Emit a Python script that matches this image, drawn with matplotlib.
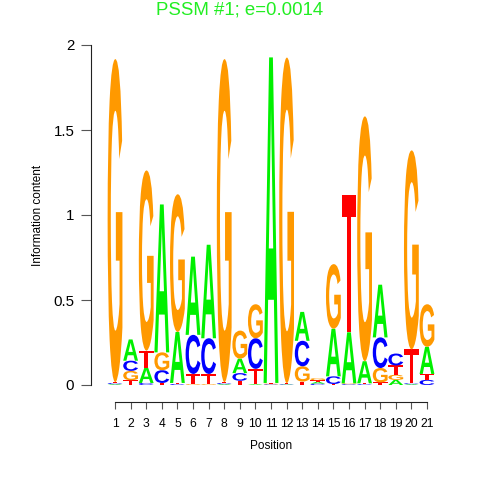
import numpy as np
import matplotlib
matplotlib.use("Agg")
import matplotlib.pyplot as plt
from matplotlib.textpath import TextPath
from matplotlib.patches import PathPatch
from matplotlib.font_manager import FontProperties
import matplotlib.transforms as mtrans

# information content per base at each position
positions = list(range(1, 22))
A = [0.005, 0.125, 0.090, 0.870, 0.300, 0.460, 0.550, 0.005, 0.085, 0.005, 1.915,
     0.003, 0.170, 0.010, 0.280, 0.300, 0.130, 0.310, 0.030, 0.005, 0.160]
C = [0.006, 0.060, 0.012, 0.075, 0.006, 0.230, 0.210, 0.006, 0.045, 0.180, 0.004,
     0.003, 0.150, 0.008, 0.045, 0.005, 0.005, 0.180, 0.070, 0.005, 0.030]
G = [1.900, 0.055, 1.060, 0.105, 0.810, 0.005, 0.005, 1.900, 0.165, 0.200, 0.004,
     1.915, 0.090, 0.012, 0.380, 0.005, 1.440, 0.085, 0.030, 1.170, 0.250]
T = [0.006, 0.028, 0.100, 0.012, 0.006, 0.060, 0.060, 0.006, 0.025, 0.090, 0.004,
     0.005, 0.020, 0.010, 0.006, 0.810, 0.005, 0.015, 0.055, 0.200, 0.035]

bases = ["A", "C", "G", "T"]
colors = {"A": "#00F000", "C": "#0000FF", "G": "#FF9900", "T": "#FF0000"}

glyph_font = FontProperties(family="Liberation Sans", weight="bold")
plt.rcParams["font.family"] = ["Liberation Sans", "DejaVu Sans"]


def draw_letter(ax, ch, x, y0, w, h, color):
    tp = TextPath((0, 0), ch, size=1, prop=glyph_font)
    bb = tp.get_extents()
    tr = (mtrans.Affine2D()
          .translate(-bb.x0, -bb.y0)
          .scale(w / bb.width, h / bb.height)
          .translate(x - w / 2, y0))
    ax.add_patch(PathPatch(tr.transform_path(tp), fc=color, ec="none", lw=0))


fig = plt.figure(figsize=(4.8, 4.8), dpi=100)
ax = fig.add_axes([91 / 480, 95 / 480, 360 / 480, 340 / 480])

heights = {"A": A, "C": C, "G": G, "T": T}
for i, pos in enumerate(positions):
    col = sorted(bases, key=lambda b: heights[b][i])  # smallest at the bottom
    y = 0.0
    for b in col:
        h = heights[b][i]
        if h > 0:
            draw_letter(ax, b, pos, y, 0.95, h, colors[b])
        y += h

ax.set_xlim(1 - 24 / 15.58, 21 + 24 / 15.58)
ax.set_ylim(0, 2)

for s in ["top", "right"]:
    ax.spines[s].set_visible(False)
ax.spines["left"].set_bounds(0, 2)
ax.spines["bottom"].set_bounds(1, 21)
ax.spines["bottom"].set_position(("outward", 12))
for s in ["left", "bottom"]:
    ax.spines[s].set_color("#222222")
    ax.spines[s].set_linewidth(0.8)

ax.set_xticks(positions)
ax.set_xticklabels([str(p) for p in positions], fontsize=8.7)
ax.set_yticks([0, 0.5, 1, 1.5, 2])
ax.set_yticklabels(["0", "0.5", "1", "1.5", "2"], fontsize=10.8)
ax.tick_params(axis="x", length=5, width=0.8, color="#555555", pad=7)
ax.tick_params(axis="y", length=7, width=0.8, color="#555555", pad=5)

fig.text(271 / 480, 1 - 446 / 480, "Position", ha="center", va="center", fontsize=8.5)
fig.text(38 / 480, 1 - 215 / 480, "Information content", ha="center", va="center",
         rotation=90, fontsize=8.5)
fig.text(240 / 480, 1 - 10 / 480, "PSSM #1; e=0.0014", ha="center", va="center",
         fontsize=13.4, color="#22EE22")

fig.savefig("out.png", dpi=100)
